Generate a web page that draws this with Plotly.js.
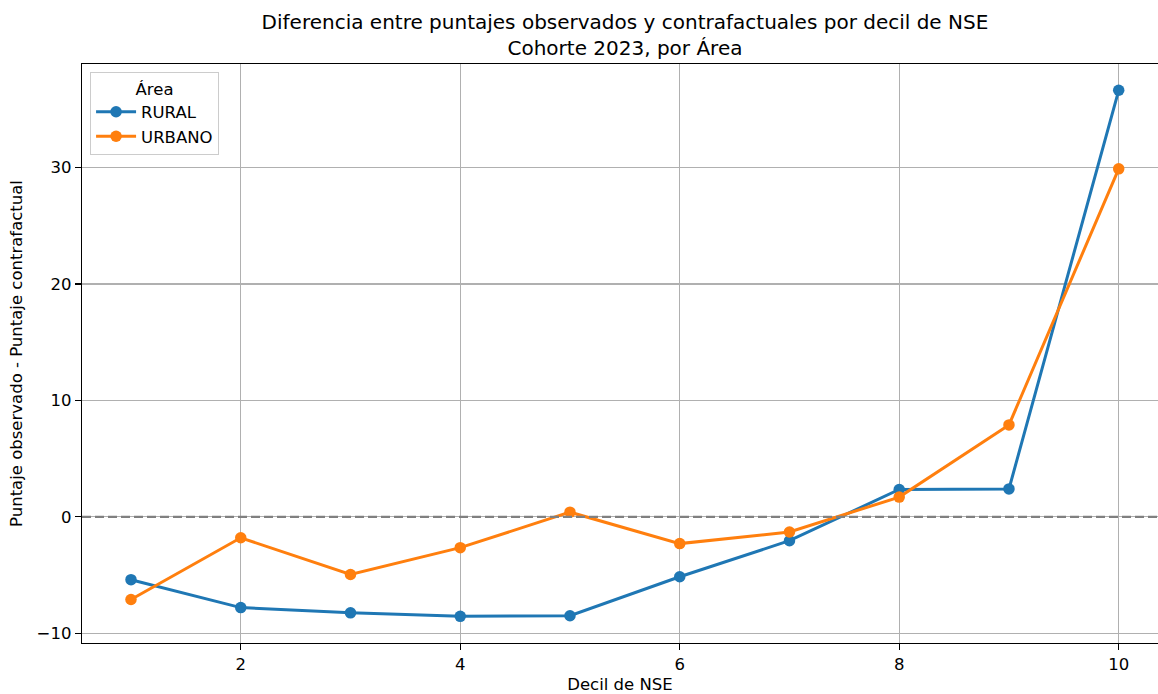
<!DOCTYPE html>
<html>
<head>
<meta charset="utf-8">
<script src="https://cdn.plot.ly/plotly-3.0.1.min.js"></script>
<style>html,body{margin:0;padding:0;background:#fff}#chart{width:1158px;height:694px}</style>
</head>
<body>
<div id="chart"></div>
<script>
const deciles = [1, 2, 3, 4, 5, 6, 7, 8, 9, 10];
const rural = [-5.4, -7.8, -8.25, -8.55, -8.5, -5.15, -2.05, 2.35, 2.4, 36.65];
const urbano = [-7.1, -1.8, -4.95, -2.65, 0.4, -2.3, -1.3, 1.7, 7.9, 29.9];
const xTicks = [2, 4, 6, 8, 10];
const yTicks = [-10, 0, 10, 20, 30];

const font = 'DejaVu Sans, sans-serif';
const fs = 16.5;
const mk = (name, y, color) => ({
  x: deciles, y: y, name: name, type: 'scatter', mode: 'lines+markers',
  line: {color: color, width: 3},
  marker: {color: color, size: 11.5}
});

const layout = {
  width: 1158, height: 694,
  margin: {l: 82, r: 0, t: 64, b: 51},
  paper_bgcolor: '#fff', plot_bgcolor: '#fff',
  font: {family: font, size: fs, color: '#000'},
  title: {
    text: 'Diferencia entre puntajes observados y contrafactuales por decil de NSE<br>Cohorte 2023, por Área',
    font: {family: font, size: 20, color: '#000'},
    x: 0.5397, xanchor: 'center', yref: 'container', y: 0.958, yanchor: 'top'
  },
  xaxis: {
    range: [0.5535, 10.358], tickvals: xTicks, ticktext: xTicks.map(String),
    showgrid: true, gridcolor: '#b0b0b0', gridwidth: 1.3,
    showline: true, linecolor: '#000', linewidth: 1.3, mirror: true,
    ticks: 'outside', ticklen: 6, tickwidth: 1.3, tickcolor: '#000', zeroline: false,
    tickfont: {family: font, size: fs},
    title: {text: 'Decil de NSE', font: {family: font, size: fs}, standoff: 6}
  },
  yaxis: {
    range: [-10.84, 38.91], tickvals: yTicks, ticktext: yTicks.map(v => v < 0 ? '\u2212' + Math.abs(v) : String(v)),
    showgrid: true, gridcolor: '#b0b0b0', gridwidth: 1.3,
    showline: true, linecolor: '#000', linewidth: 1.3,
    ticks: 'outside', ticklen: 6, tickwidth: 1.3, tickcolor: '#000', zeroline: false,
    tickfont: {family: font, size: fs},
    title: {text: 'Puntaje observado - Puntaje contrafactual', font: {family: font, size: fs}, standoff: 9}
  },
  shapes: [{
    type: 'line', xref: 'paper', x0: 0, x1: 1, yref: 'y', y0: 0, y1: 0,
    line: {color: '#808080', width: 2.4, dash: '9px,4px'}, layer: 'above'
  }],
  legend: {
    x: 0.0075, y: 0.986, xanchor: 'left', yanchor: 'top',
    bgcolor: 'rgba(255,255,255,0.8)', bordercolor: '#cccccc', borderwidth: 1,
    font: {family: font, size: fs},
    title: {text: 'Área', side: 'top center', font: {family: font, size: fs}},
    itemwidth: 40, tracegroupgap: 0
  },
  showlegend: true
};

Plotly.newPlot('chart', [mk('RURAL', rural, '#1f77b4'), mk('URBANO', urbano, '#ff7f0e')], layout, {displayModeBar: false, staticPlot: true});
</script>
</body>
</html>
